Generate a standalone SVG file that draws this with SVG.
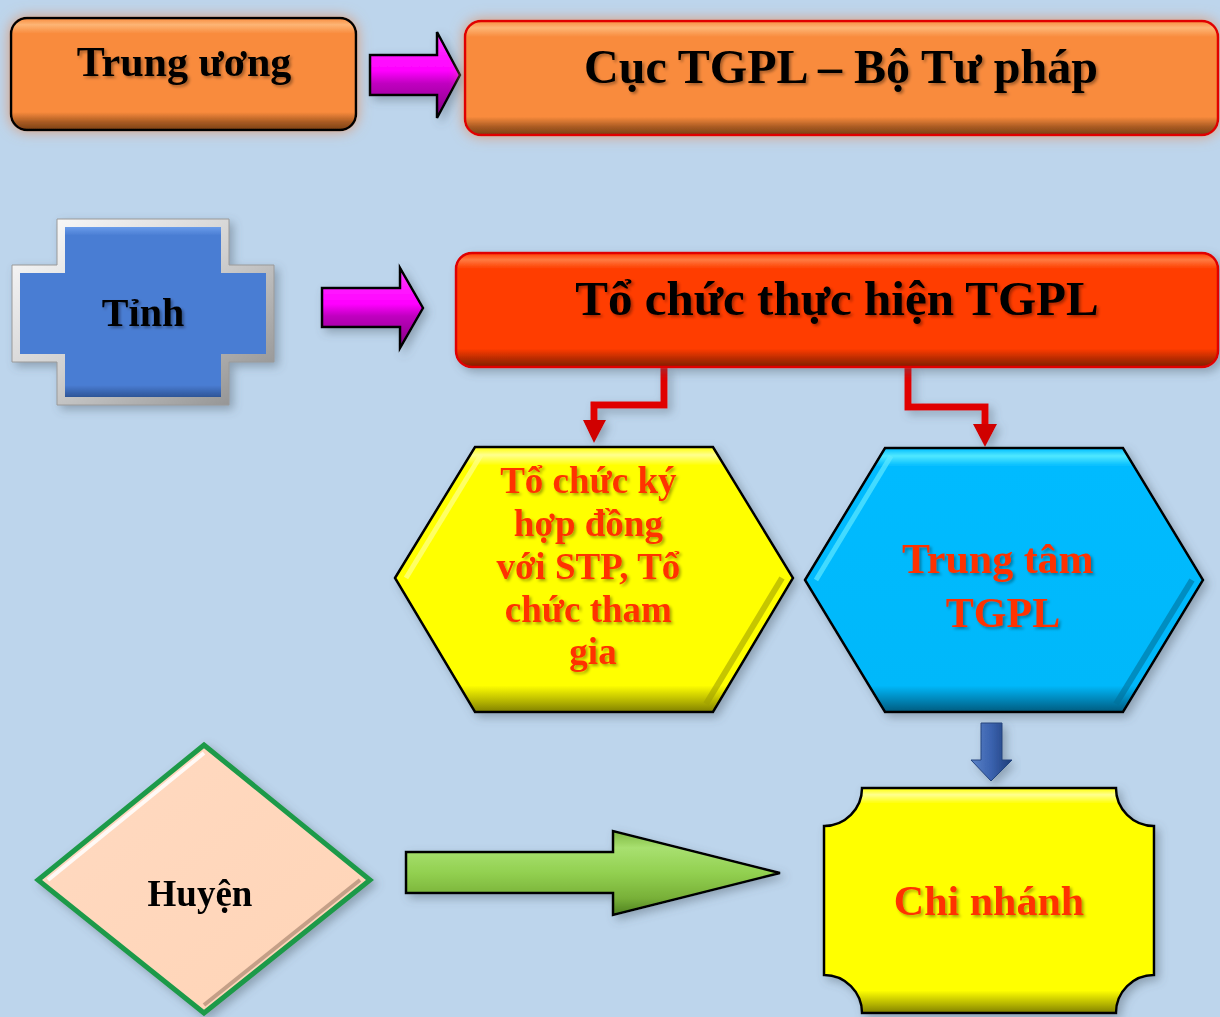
<svg xmlns="http://www.w3.org/2000/svg" width="1220" height="1017" viewBox="0 0 1220 1017">
<defs>
<style>
.t{font-family:"Liberation Serif","Times New Roman",serif;font-weight:bold;text-anchor:middle}
.blk{fill:#000}
.red{fill:#FF3300}
</style>
<linearGradient id="gOrange" x1="0" y1="0" x2="0" y2="1">
<stop offset="0" stop-color="#F98B3D"/><stop offset="0.06" stop-color="#FDB575"/><stop offset="0.14" stop-color="#F98B3D"/><stop offset="0.84" stop-color="#F98B3D"/><stop offset="0.93" stop-color="#A85A22"/><stop offset="1" stop-color="#7A4015"/>
</linearGradient>
<linearGradient id="gRedOr" x1="0" y1="0" x2="0" y2="1">
<stop offset="0" stop-color="#FF3C00"/><stop offset="0.06" stop-color="#FF7A40"/><stop offset="0.14" stop-color="#FF3C00"/><stop offset="0.84" stop-color="#FF3C00"/><stop offset="0.93" stop-color="#B52A00"/><stop offset="1" stop-color="#7E1E00"/>
</linearGradient>
<linearGradient id="gMag" x1="0" y1="0" x2="0" y2="1">
<stop offset="0" stop-color="#FF40FF"/><stop offset="0.45" stop-color="#FF00FF"/><stop offset="0.6" stop-color="#C000C0"/><stop offset="1" stop-color="#800080"/>
</linearGradient>
<linearGradient id="gYel" x1="0" y1="0" x2="0" y2="1">
<stop offset="0" stop-color="#FFFF00"/><stop offset="0.03" stop-color="#FFFF90"/><stop offset="0.07" stop-color="#FFFF00"/><stop offset="0.9" stop-color="#FFFF00"/><stop offset="0.96" stop-color="#B5B500"/><stop offset="1" stop-color="#808000"/>
</linearGradient>
<linearGradient id="gCyan" x1="0" y1="0" x2="0" y2="1">
<stop offset="0" stop-color="#00BBFF"/><stop offset="0.03" stop-color="#50E8FF"/><stop offset="0.07" stop-color="#00BBFF"/><stop offset="0.9" stop-color="#00B8FA"/><stop offset="0.96" stop-color="#0080B0"/><stop offset="1" stop-color="#005A7E"/>
</linearGradient>
<linearGradient id="gFrame" x1="0" y1="0" x2="1" y2="1">
<stop offset="0" stop-color="#FFFFFF"/><stop offset="0.5" stop-color="#D0D0D0"/><stop offset="1" stop-color="#8A8A8A"/>
</linearGradient>
<linearGradient id="gBlue" x1="0" y1="0" x2="0" y2="1">
<stop offset="0" stop-color="#6A9CEA"/><stop offset="0.05" stop-color="#4A7DD3"/><stop offset="0.93" stop-color="#4A7DD3"/><stop offset="1" stop-color="#2E5597"/>
</linearGradient>
<linearGradient id="gPeach" x1="0" y1="0" x2="1" y2="1">
<stop offset="0" stop-color="#FFFFFF"/><stop offset="0.12" stop-color="#FFD9C0"/><stop offset="0.85" stop-color="#FFD5B8"/><stop offset="1" stop-color="#B08A70"/>
</linearGradient>
<linearGradient id="gGreen" x1="0" y1="0" x2="0" y2="1">
<stop offset="0" stop-color="#7EB840"/><stop offset="0.2" stop-color="#A8E070"/><stop offset="0.5" stop-color="#92D050"/><stop offset="0.8" stop-color="#78B038"/><stop offset="1" stop-color="#4E8020"/>
</linearGradient>
<linearGradient id="gDBlue" x1="0" y1="0" x2="1" y2="0">
<stop offset="0" stop-color="#5A82C8"/><stop offset="0.5" stop-color="#3A62AE"/><stop offset="1" stop-color="#1E3C78"/>
</linearGradient>
<filter id="glow" x="-10%" y="-30%" width="120%" height="160%">
<feDropShadow dx="0" dy="0" stdDeviation="7" flood-color="#E0956A" flood-opacity="0.9"/>
</filter>
<filter id="sh" x="-15%" y="-15%" width="135%" height="135%">
<feDropShadow dx="4" dy="4" stdDeviation="5" flood-color="#556070" flood-opacity="0.45"/>
</filter>
<filter id="tsh" x="-10%" y="-20%" width="120%" height="150%">
<feDropShadow dx="2" dy="2" stdDeviation="1.5" flood-color="#000" flood-opacity="0.35"/>
</filter>
</defs>
<rect x="0" y="0" width="1220" height="1017" fill="#BDD5EC"/>

<g id="connectors">
<g id="arrow-tw" filter="url(#sh)">
<polygon points="370,55 437,55 437,32 460,75 437,118 437,95 370,95" fill="url(#gMag)" stroke="#000" stroke-width="2.5" stroke-linejoin="miter"/>
</g>
<g id="arrow-tinh" filter="url(#sh)">
<polygon points="322,288 400,288 400,268 423,308 400,348 400,327 322,327" fill="url(#gMag)" stroke="#000" stroke-width="2.5"/>
</g>
<g id="red-left" filter="url(#sh)">
<polyline points="664,367 664,405 594,405 594,422" fill="none" stroke="#E00000" stroke-width="7"/>
<polygon points="583,420 606,420 594,443" fill="#D00000"/>
</g>
<g id="red-right" filter="url(#sh)">
<polyline points="908,367 908,407 985,407 985,426" fill="none" stroke="#E00000" stroke-width="7"/>
<polygon points="973,424 997,424 985,447" fill="#D00000"/>
</g>
<g id="arrow-blue" filter="url(#sh)">
<polygon points="981,723 1002,723 1002,760 1012,760 991,781 971,760 981,760" fill="url(#gDBlue)" stroke="#24457F" stroke-width="1"/>
</g>
<g id="arrow-green" filter="url(#sh)">
<polygon points="406,852 613,852 613,831 780,873 613,915 613,893 406,893" fill="url(#gGreen)" stroke="#000" stroke-width="2.5"/>
</g>
</g>

<g id="node-trunguong" filter="url(#glow)">
<rect x="11" y="18" width="345" height="112" rx="16" fill="url(#gOrange)" stroke="#000" stroke-width="2.5"/>
<text class="t blk" x="184" y="76" font-size="42" filter="url(#tsh)">Trung ương</text>
</g>

<g id="node-cuc" filter="url(#glow)">
<rect x="465" y="21" width="753" height="114" rx="16" fill="url(#gOrange)" stroke="#E00000" stroke-width="2.5"/>
<text class="t blk" x="841" y="83" font-size="48" filter="url(#tsh)">Cục TGPL – Bộ Tư pháp</text>
</g>

<g id="node-tinh" filter="url(#sh)">
<polygon points="57,219 229,219 229,265 274,265 274,362 229,362 229,405 57,405 57,362 12,362 12,265 57,265" fill="url(#gFrame)" stroke="#9A9A9A" stroke-width="1"/>
<polygon points="65,227 221,227 221,273 266,273 266,354 221,354 221,397 65,397 65,354 20,354 20,273 65,273" fill="url(#gBlue)"/>
<text class="t blk" x="143" y="326" font-size="40" filter="url(#tsh)">Tỉnh</text>
</g>

<g id="node-tochuc" filter="url(#sh)">
<rect x="456" y="253" width="762" height="114" rx="16" fill="url(#gRedOr)" stroke="#E00000" stroke-width="2.5"/>
<text class="t blk" x="837" y="315" font-size="49" filter="url(#tsh)">Tổ chức thực hiện TGPL</text>
</g>

<g id="node-hopdong" filter="url(#sh)">
<polygon points="395,578 475,447 713,447 793,578 713,712 475,712" fill="url(#gYel)" stroke="#000" stroke-width="2.5"/>
<polyline points="782,578 706,704" fill="none" stroke="#A0A000" stroke-width="6" opacity="0.6"/>
<polyline points="406,578 481,455" fill="none" stroke="#FFFF90" stroke-width="5" opacity="0.7"/>
<text class="t red" font-size="37" filter="url(#tsh)">
<tspan x="593" y="493">Tổ chức ký</tspan>
<tspan x="593" y="536">hợp đồng</tspan>
<tspan x="593" y="579">với STP, Tổ</tspan>
<tspan x="593" y="622">chức tham</tspan>
<tspan x="593" y="664">gia</tspan>
</text>
</g>

<g id="node-trungtam" filter="url(#sh)">
<polygon points="805,580 885,448 1123,448 1203,580 1123,712 885,712" fill="url(#gCyan)" stroke="#000" stroke-width="2.5"/>
<polyline points="1192,580 1116,704" fill="none" stroke="#00709A" stroke-width="6" opacity="0.6"/>
<polyline points="816,580 891,456" fill="none" stroke="#60E8FF" stroke-width="5" opacity="0.7"/>
<text class="t red" font-size="42" filter="url(#tsh)">
<tspan x="1003" y="573">Trung tâm</tspan>
<tspan x="1003" y="627">TGPL</tspan>
</text>
</g>

<g id="node-huyen" filter="url(#sh)">
<polygon points="204,745 370,880 204,1013 38,880" fill="url(#gPeach)" stroke="#1E9A48" stroke-width="5" stroke-linejoin="miter"/>
<polyline points="48,880 204,753" fill="none" stroke="#FFFFFF" stroke-width="4" opacity="0.85"/>
<polyline points="360,880 204,1005" fill="none" stroke="#8A6A55" stroke-width="4" opacity="0.5"/>
<text class="t blk" x="200" y="906" font-size="37">Huyện</text>
</g>

<g id="node-chinhanh" filter="url(#sh)">
<path d="M862,788 L1116,788 A38,38 0 0 0 1154,826 L1154,975 A38,38 0 0 0 1116,1013 L862,1013 A38,38 0 0 0 824,975 L824,826 A38,38 0 0 0 862,788 Z" fill="url(#gYel)" stroke="#000" stroke-width="2.5"/>
<text class="t red" x="989" y="915" font-size="42" filter="url(#tsh)">Chi nhánh</text>
</g>
</svg>
